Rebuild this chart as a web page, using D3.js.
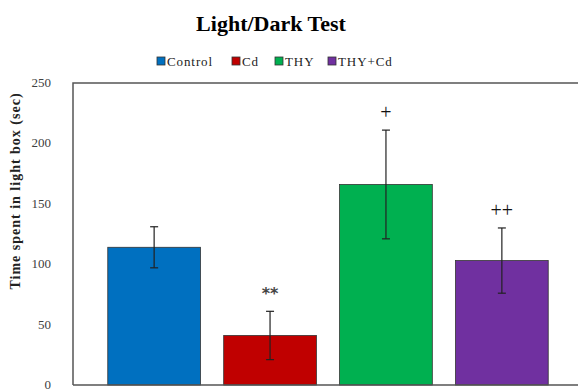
<!DOCTYPE html>
<html lang="en">
<head>
  <meta charset="utf-8">
  <title>Light/Dark Test</title>
  <script src="https://d3js.org/d3.v7.min.js"></script>
  <style>
    body {
      margin: 0;
      background: #fff;
      font-family: "Liberation Serif", "Times New Roman", serif;
    }
  </style>
</head>
<body>
  <div id="chart"></div>
  <script>
    // Values
    const groups = ["Control", "Cd", "THY", "THY+Cd"];
    const means = [114, 41, 166, 103];
    const errors = [17, 20, 45, 27];
    const marks = ["", "**", "+", "++"];
    const colors = ["#0070C0", "#C00000", "#00B050", "#7030A0"];
    const yTicks = [0, 50, 100, 150, 200, 250];

    const width = 578, height = 389;
    const plotLeft = 73, plotRight = 583, plotTop = 83, plotBottom = 385;

    const svg = d3.select("#chart")
      .append("svg")
      .attr("width", width)
      .attr("height", height);

    const x = d3.scaleBand()
      .domain(groups)
      .range([plotLeft, plotRight])
      .paddingInner(0.2)
      .paddingOuter(0.3);

    const y = d3.scaleLinear()
      .domain([0, 250])
      .range([plotBottom, plotTop]);

    // Title
    svg.append("text")
      .attr("x", 271)
      .attr("y", 31)
      .attr("text-anchor", "middle")
      .style("font-size", "22px")
      .style("font-weight", "bold")
      .text("Light/Dark Test");

    // Legend
    const legendX = [157, 232, 275, 328];
    const legend = svg.append("g").attr("class", "legend");
    groups.forEach((name, i) => {
      legend.append("rect")
        .attr("x", legendX[i])
        .attr("y", 57)
        .attr("width", 8)
        .attr("height", 8)
        .attr("fill", colors[i])
        .attr("stroke", "#333")
        .attr("stroke-width", 0.8);
      legend.append("text")
        .attr("x", legendX[i] + 10)
        .attr("y", 65.5)
        .style("font-size", "13px")
        .style("letter-spacing", "0.9px")
        .attr("fill", "#222")
        .text(name);
    });

    // Y tick labels
    svg.append("g")
      .selectAll("text")
      .data(yTicks)
      .join("text")
      .attr("x", 51)
      .attr("y", d => y(d))
      .attr("dy", "0.3em")
      .attr("text-anchor", "end")
      .style("font-size", "13px")
      .attr("fill", "#404040")
      .text(d => d);

    // Y axis title
    svg.append("text")
      .attr("transform", "translate(20, 191) rotate(-90)")
      .attr("text-anchor", "middle")
      .style("font-size", "14px")
      .style("font-weight", "bold")
      .style("letter-spacing", "1px")
      .attr("fill", "#222")
      .text("Time spent in light box (sec)");

    // Plot frame (top and left edges)
    svg.append("path")
      .attr("d", `M${plotLeft},${plotBottom} V${plotTop} H${width}`)
      .attr("fill", "none")
      .attr("stroke", "#555")
      .attr("stroke-width", 1.5);

    // Bars
    svg.append("g")
      .selectAll("rect")
      .data(groups)
      .join("rect")
      .attr("x", d => x(d))
      .attr("y", (d, i) => y(means[i]))
      .attr("width", x.bandwidth())
      .attr("height", (d, i) => y(0) - y(means[i]))
      .attr("fill", (d, i) => colors[i])
      .attr("stroke", "#333")
      .attr("stroke-width", 0.8);

    // Error bars
    const err = svg.append("g")
      .attr("stroke", "#222")
      .attr("stroke-width", 1.2);
    groups.forEach((name, i) => {
      const cx = x(name) + x.bandwidth() / 2;
      const hi = y(means[i] + errors[i]);
      const lo = y(means[i] - errors[i]);
      err.append("line").attr("x1", cx).attr("x2", cx).attr("y1", hi).attr("y2", lo);
      err.append("line").attr("x1", cx - 4).attr("x2", cx + 4).attr("y1", hi).attr("y2", hi);
      err.append("line").attr("x1", cx - 4).attr("x2", cx + 4).attr("y1", lo).attr("y2", lo);
    });

    // Significance marks
    const isStar = (i) => marks[i] === "**";
    svg.append("g")
      .selectAll("text")
      .data(groups)
      .join("text")
      .attr("x", d => x(d) + x.bandwidth() / 2)
      .attr("y", (d, i) => y(means[i] + errors[i]) - (isStar(i) ? 12 : 11))
      .attr("text-anchor", "middle")
      .style("font-family", (d, i) => isStar(i) ? "'DejaVu Sans', sans-serif" : "'Liberation Serif', serif")
      .style("font-size", (d, i) => isStar(i) ? "16px" : "20px")
      .style("font-weight", (d, i) => isStar(i) ? "bold" : "normal")
      .attr("fill", (d, i) => isStar(i) ? "#444" : "#111")
      .text((d, i) => marks[i]);

    // Bottom axis line
    svg.append("line")
      .attr("x1", plotLeft)
      .attr("x2", width)
      .attr("y1", plotBottom)
      .attr("y2", plotBottom)
      .attr("stroke", "#555")
      .attr("stroke-width", 1.5);
  </script>
</body>
</html>
